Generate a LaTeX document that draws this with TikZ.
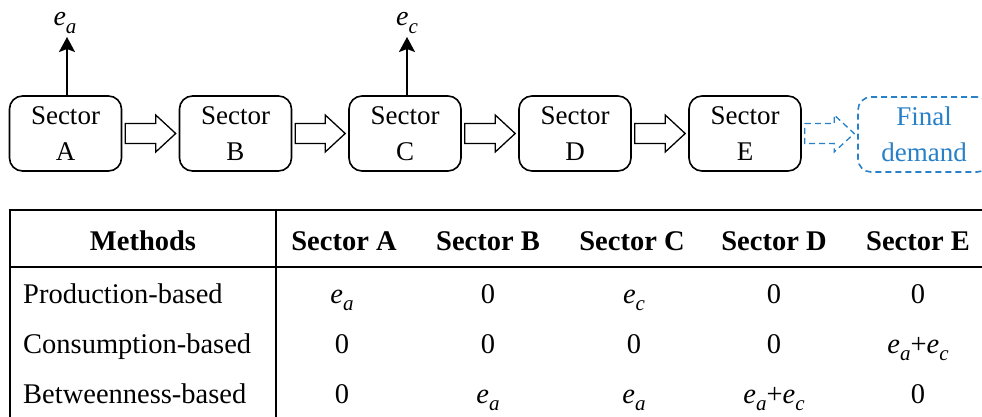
\documentclass[tikz,border=0pt]{standalone}
\usepackage{fontspec}
\setmainfont{Liberation Serif}
\usepackage{graphicx}
\usetikzlibrary{calc,arrows.meta}
\definecolor{fdblue}{RGB}{40,128,200}
\newcommand\ee[1]{\textit{e}\raisebox{-0.26em}{\fontsize{21}{21}\selectfont\textit{#1}}}
\newcommand\blockarrow[3][]{%
  \draw[blockarr,#1] let \p1=($(#2.east)+(3,0)$), \p2=($(#3.west)+(-3,0)$) in
    (\x1,{\y1+10pt}) -- ({\x2-20pt},{\y1+10pt}) -- ({\x2-20pt},{\y1+18.5pt}) -- (\x2,\y1)
    -- ({\x2-20pt},{\y1-18.5pt}) -- ({\x2-20pt},{\y1-10pt}) -- (\x1,{\y1-10pt}) -- cycle;}
\begin{document}
\begin{tikzpicture}[x=1pt,y=-1pt,
  sector/.style={draw, line width=1.6pt, rounded corners=13pt, minimum width=112pt,
    minimum height=75pt, align=center, inner sep=0pt, font=\fontsize{27}{36}\selectfont},
  finalbox/.style={sector, draw=fdblue, text=fdblue, dash pattern=on 6pt off 4pt, minimum width=132pt},
  blockarr/.style={draw, line width=1.3pt, fill=white, line join=miter},
  bluearr/.style={draw=fdblue, dash pattern=on 6pt off 4pt},
  uparrow/.style={line width=2pt, -{Stealth[length=15pt,width=16pt,inset=3pt]}},
  lab/.style={anchor=base, inner sep=0pt, font=\fontsize{28}{34}\selectfont},
  cell/.style={anchor=base, inner sep=0pt, font=\fontsize{28.5}{34}\selectfont},
  hcell/.style={cell, font=\fontsize{28.5}{34}\selectfont\bfseries},
  rowlab/.style={cell, anchor=base west},
  thickrule/.style={line width=2.6pt},
  thinrule/.style={line width=1.7pt}]
\useasboundingbox (0,0) rectangle (982,417);
\clip (0,0) rectangle (982,417);
% flow diagram
\node[sector] (A) at (65.5,133.5) {Sector\\A};
\node[sector] (B) at (235.5,133.5) {Sector\\B};
\node[sector] (C) at (405,133.5) {Sector\\C};
\node[sector] (D) at (575,133.5) {Sector\\D};
\node[sector] (E) at (745,133.5) {Sector\\E};
\node[finalbox] (F) at (924,134.5) {Final\\demand};
\blockarrow{A}{B}
\blockarrow{B}{C}
\blockarrow{C}{D}
\blockarrow{D}{E}
\blockarrow[bluearr]{E}{F}
\coordinate (ta) at (67,37);
\coordinate (tc) at (407,37);
\draw[uparrow] (A.north -| ta) -- (ta);
\draw[uparrow] (C.north -| tc) -- (tc);
\node[lab] (la) at (65,26) {\ee{a}};
\node[lab] (lc) at (407,26) {\ee{c}};
% table rules
\draw[thinrule] (10,209) -- (10,417);
\draw[thinrule] (276,210) -- (276,417);
\draw[thickrule] (8.7,210) -- (982,210);
\draw[thickrule] (10,267) -- (982,267);
% header
\node[hcell] (h0) at (143,250) {Methods};
\node[hcell] (h1) at (344,250) {Sector A};
\node[hcell] (h2) at (488,250) {Sector B};
\node[hcell] (h3) at (632,250) {Sector C};
\node[hcell] (h4) at (774,250) {Sector D};
\node[hcell] (h5) at (918,250) {Sector E};
% row 1
\node[rowlab] (r1) at (23,303) {Production-based};
\node[cell] (r1a) at (342,303) {\ee{a}};
\node[cell] (r1b) at (488,303) {0};
\node[cell] (r1c) at (634,303) {\ee{c}};
\node[cell] (r1d) at (774,303) {0};
\node[cell] (r1e) at (918,303) {0};
% row 2
\node[rowlab] (r2) at (23,353) {Consumption-based};
\node[cell] (r2a) at (342,353) {0};
\node[cell] (r2b) at (488,353) {0};
\node[cell] (r2c) at (634,353) {0};
\node[cell] (r2d) at (774,353) {0};
\node[cell] (r2e) at (918,353) {\ee{a}+\ee{c}};
% row 3
\node[rowlab] (r3) at (23,403) {Betweenness-based};
\node[cell] (r3a) at (342,403) {0};
\node[cell] (r3b) at (488,403) {\ee{a}};
\node[cell] (r3c) at (634,403) {\ee{a}};
\node[cell] (r3d) at (774,403) {\ee{a}+\ee{c}};
\node[cell] (r3e) at (918,403) {0};
\end{tikzpicture}
\end{document}
